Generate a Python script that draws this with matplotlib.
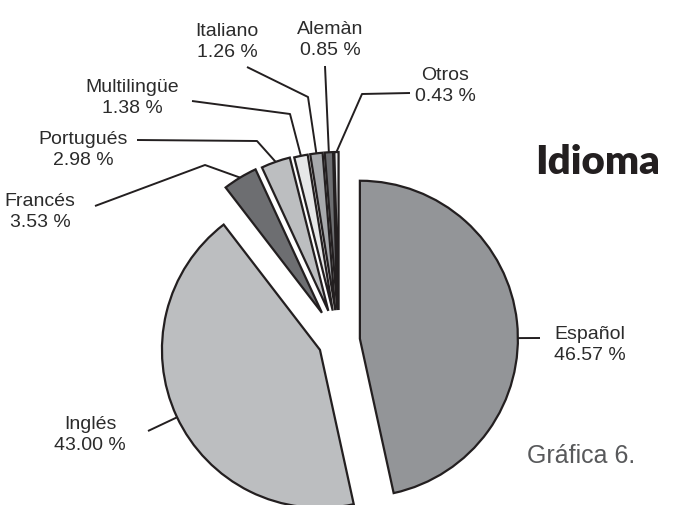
import matplotlib.pyplot as plt
import numpy as np

# Datos de la gráfica
idiomas = ["Español", "Inglés", "Francés", "Portugués", "Multilingüe",
           "Italiano", "Alemàn", "Otros"]
porcentajes = [46.57, 43.00, 3.53, 2.98, 1.38, 1.26, 0.85, 0.43]
colores = ["#939598", "#bcbec0", "#6d6e71", "#bcbec0", "#e6e7e8",
           "#a7a9ac", "#6d6e71", "#e6e7e8"]
# desplazamiento de cada porción (en pixeles, matplotlib no lo escala)
separar = [21, 21, 33, 32, 31, 31, 31, 31]

W, H = 675, 506
centro = (339, H - 342)
radio = 158

# posiciones de etiquetas (pixeles) y puntos de quiebre de las guías
pos_texto = [(590, 345), (90, 435), (40, 212), (83, 150), (132, 98),
             (227, 42), (330, 40), (445, 86)]
quiebre = [(540, 339), (148, 432), (95, 207), (137, 141), (192, 102),
           (247, 68), (325, 67), (410, 94)]
codo = [None, None, (205, 166), (257, 142), (290, 115),
        (308, 98), None, (362, 95)]
hacia_quiebre = [True, True, False, False, False, False, False, False]

fig = plt.figure(figsize=(6.75, 5.06), dpi=100)
ax = fig.add_axes([0, 0, 1, 1])

wedges, _ = ax.pie(porcentajes, colors=colores, explode=separar,
                   startangle=90, counterclock=False, radius=radio,
                   center=centro, frame=True,
                   wedgeprops=dict(edgecolor="#231f20", linewidth=1.6))
ax.set_xlim(0, W)
ax.set_ylim(0, H)
ax.set_aspect("equal")
ax.axis("off")

for i, w in enumerate(wedges):
    cx, cy = w.center
    qx, qy = quiebre[i][0], H - quiebre[i][1]
    if hacia_quiebre[i]:
        ang = np.arctan2(qy - cy, qx - cx)
    else:
        ang = np.deg2rad((w.theta1 + w.theta2) / 2)
    ex = cx + w.r * np.cos(ang)
    ey = cy + w.r * np.sin(ang)
    pts = [(qx, qy)]
    if codo[i] is not None:
        pts.append((codo[i][0], H - codo[i][1]))
    pts.append((ex, ey))
    xs, ys = zip(*pts)
    ax.plot(xs, ys, color="#231f20", lw=1.4, solid_capstyle="butt")
    tx, ty = pos_texto[i]
    ax.text(tx, H - ty, f"{idiomas[i]}\n{porcentajes[i]:.2f} %",
            ha="center", va="center", fontsize=14, family="Liberation Sans",
            color="#2b2b2b", linespacing=1.35)

ax.text(598, H - 163, "Idioma", ha="center", va="center", fontsize=29,
        family="Lato", fontweight="heavy", color="#231f20")
ax.text(581, H - 456, "Gráfica 6.", ha="center", va="center", fontsize=18,
        family="Liberation Sans", color="#58595b")

fig.savefig("out.png", dpi=100)
